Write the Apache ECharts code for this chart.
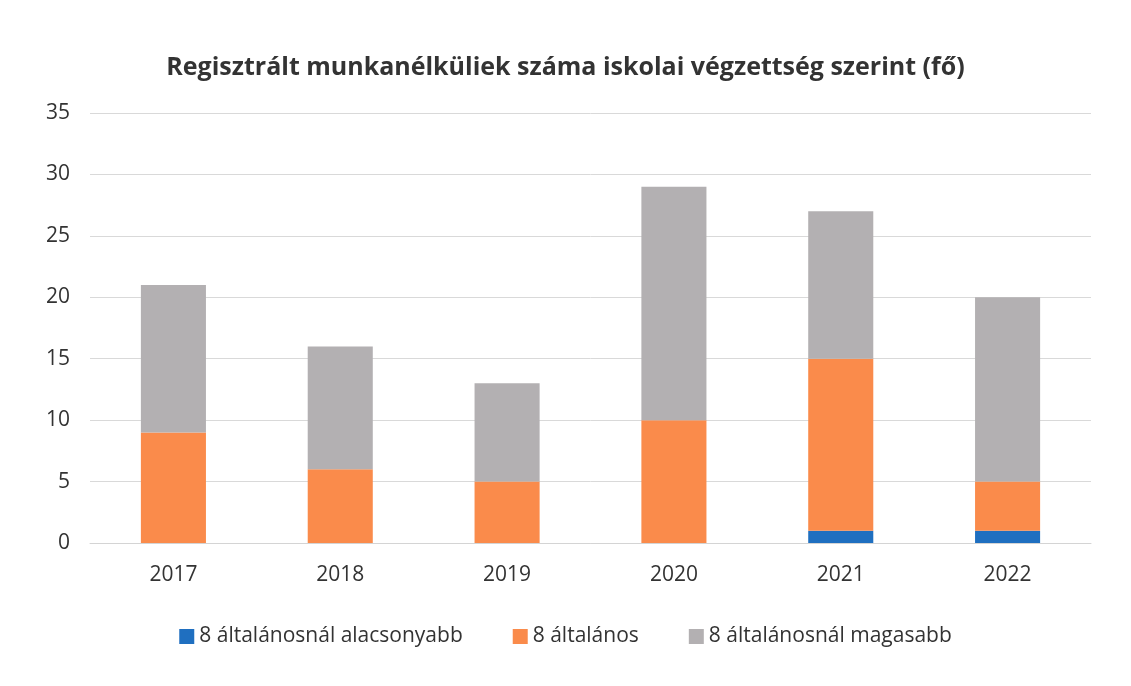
<!DOCTYPE html>
<html>
<head>
<meta charset="utf-8">
<script src="https://cdn.jsdelivr.net/npm/echarts@6/dist/echarts.min.js"></script>
<style>
  html, body { margin: 0; padding: 0; background: #fff; }
  #chart { width: 1131px; height: 686px; }
</style>
</head>
<body>
<div id="chart"></div>
<script>
var myChart = echarts.init(document.getElementById('chart'))

var years = ['2017', '2018', '2019', '2020', '2021', '2022']
var alacsonyabb = [0, 0, 0, 0, 1, 1]
var altalanos = [9, 6, 5, 10, 14, 4]
var magasabb = [12, 10, 8, 19, 12, 15]

var labelFont = 'Open Sans, Noto Sans, sans-serif'

var option = {
    backgroundColor: '#ffffff',
    title: {
        text: 'Regisztrált munkanélküliek száma iskolai végzettség szerint (fő)',
        left: 'center',
        top: 50,
        textStyle: {
            color: '#333',
            fontFamily: labelFont,
            fontWeight: 'bold',
            fontSize: 25
        }
    },
    legend: {
        bottom: 34,
        left: 'center',
        itemGap: 50,
        itemWidth: 15,
        itemHeight: 15,
        icon: 'rect',
        textStyle: { color: '#333', fontFamily: labelFont, fontSize: 21 }
    },
    grid: { left: 90, right: 40, top: 113, bottom: 143 },
    xAxis: {
        type: 'category',
        data: years,
        axisTick: { show: false },
        axisLine: { lineStyle: { color: '#d4d4d4' } },
        axisLabel: { color: '#333', fontFamily: labelFont, fontSize: 21, margin: 22 }
    },
    yAxis: {
        type: 'value',
        min: 0,
        max: 35,
        interval: 5,
        axisLabel: { color: '#333', fontFamily: labelFont, fontSize: 21, margin: 20 },
        splitLine: { lineStyle: { color: '#d9d9d9' } }
    },
    series: [
        {
            name: '8 általánosnál alacsonyabb',
            type: 'bar',
            stack: 'total',
            barWidth: '39%',
            itemStyle: { color: '#1f6fc0' },
            data: alacsonyabb
        },
        {
            name: '8 általános',
            type: 'bar',
            stack: 'total',
            itemStyle: { color: '#fa8b4b' },
            data: altalanos
        },
        {
            name: '8 általánosnál magasabb',
            type: 'bar',
            stack: 'total',
            itemStyle: { color: '#b3b0b2' },
            data: magasabb
        }
    ]
}

myChart.setOption(option);
</script>
</body>
</html>
